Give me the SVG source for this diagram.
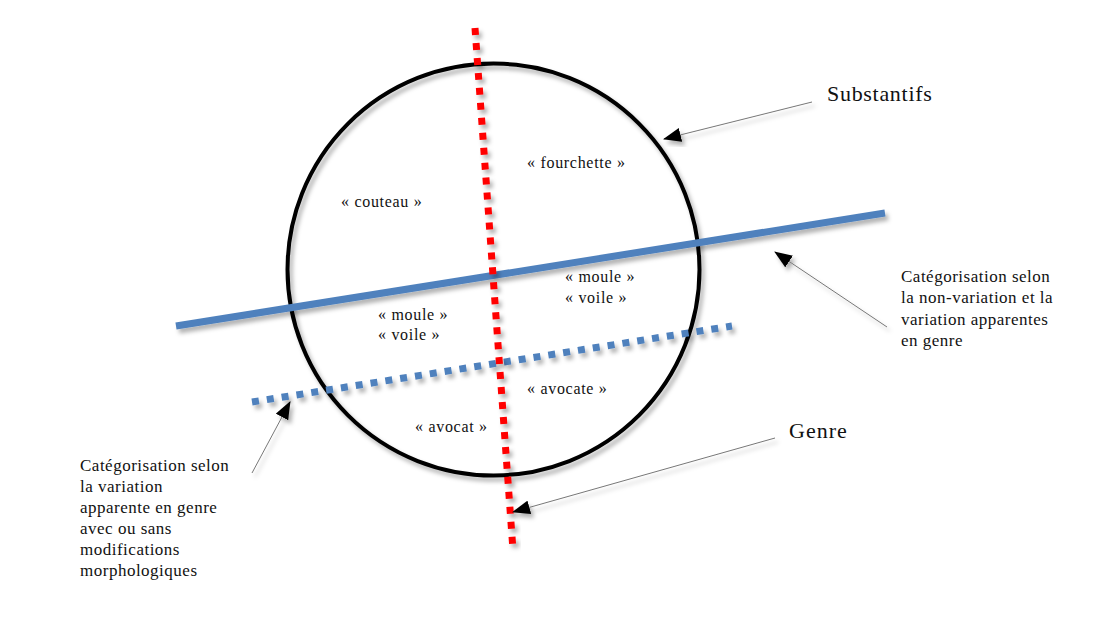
<svg xmlns="http://www.w3.org/2000/svg" width="1095" height="621" viewBox="0 0 1095 621">
<style>
.t{font-family:"Liberation Serif","Times New Roman",serif;fill:#111}
.w{font-size:16px;letter-spacing:0.7px}
.c{font-size:17px;letter-spacing:0.5px}
.big{font-size:22px;letter-spacing:0.7px}
.arr{stroke:#777;stroke-width:1;fill:none}
</style>
<defs>
<filter id="sh" x="-10%" y="-10%" width="130%" height="130%">
<feDropShadow dx="3" dy="4" stdDeviation="2" flood-color="#000" flood-opacity="0.3"/>
</filter>
<marker id="ah" markerWidth="18" markerHeight="14" refX="17" refY="7" orient="auto" markerUnits="userSpaceOnUse">
<path d="M0,0 L18,7 L0,14 Z" fill="#000"/>
</marker>
</defs>
<rect width="1095" height="621" fill="#fff"/>
<g id="circle" filter="url(#sh)">
<circle cx="493.5" cy="269.5" r="206" fill="none" stroke="#000" stroke-width="4"/>
</g>
<g id="connectors">
<line x1="176" y1="326" x2="885" y2="213" stroke="#4f81bd" stroke-width="7" filter="url(#sh)"/>
<line x1="252" y1="402" x2="732" y2="326" stroke="#4f81bd" stroke-width="7" stroke-dasharray="7 8" filter="url(#sh)"/>
<line x1="475" y1="28" x2="513" y2="550" stroke="#f00" stroke-width="7" stroke-dasharray="7 8" filter="url(#sh)"/>
<line class="arr" x1="812" y1="102" x2="664" y2="139" marker-end="url(#ah)" filter="url(#sh)"/>
<line class="arr" x1="887" y1="327" x2="775" y2="252" marker-end="url(#ah)" filter="url(#sh)"/>
<line class="arr" x1="775" y1="438" x2="513" y2="512" marker-end="url(#ah)" filter="url(#sh)"/>
<line class="arr" x1="252" y1="473" x2="290" y2="402" marker-end="url(#ah)" filter="url(#sh)"/>
</g>
<g id="words">
<text class="t w" x="527" y="168">« fourchette »</text>
<text class="t w" x="341" y="207">« couteau »</text>
<text class="t w" x="565" y="282">« moule »</text>
<text class="t w" x="565" y="303">« voile »</text>
<text class="t w" x="378" y="320">« moule »</text>
<text class="t w" x="378" y="340">« voile »</text>
<text class="t w" x="527" y="394">« avocate »</text>
<text class="t w" x="415" y="432">« avocat »</text>
</g>
<g id="label-substantifs"><text class="t big" x="827" y="101">Substantifs</text></g>
<g id="label-genre"><text class="t big" x="789" y="438" style="letter-spacing:1px">Genre</text></g>
<g id="label-right">
<text class="t c" x="901" y="282">Catégorisation selon</text>
<text class="t c" x="901" y="303">la non-variation et la</text>
<text class="t c" x="901" y="325">variation apparentes</text>
<text class="t c" x="901" y="346">en genre</text>
</g>
<g id="label-left">
<text class="t c" x="80" y="471">Catégorisation selon</text>
<text class="t c" x="80" y="492">la variation</text>
<text class="t c" x="80" y="513">apparente en genre</text>
<text class="t c" x="80" y="534">avec ou sans</text>
<text class="t c" x="80" y="555">modifications</text>
<text class="t c" x="80" y="576">morphologiques</text>
</g>
</svg>
